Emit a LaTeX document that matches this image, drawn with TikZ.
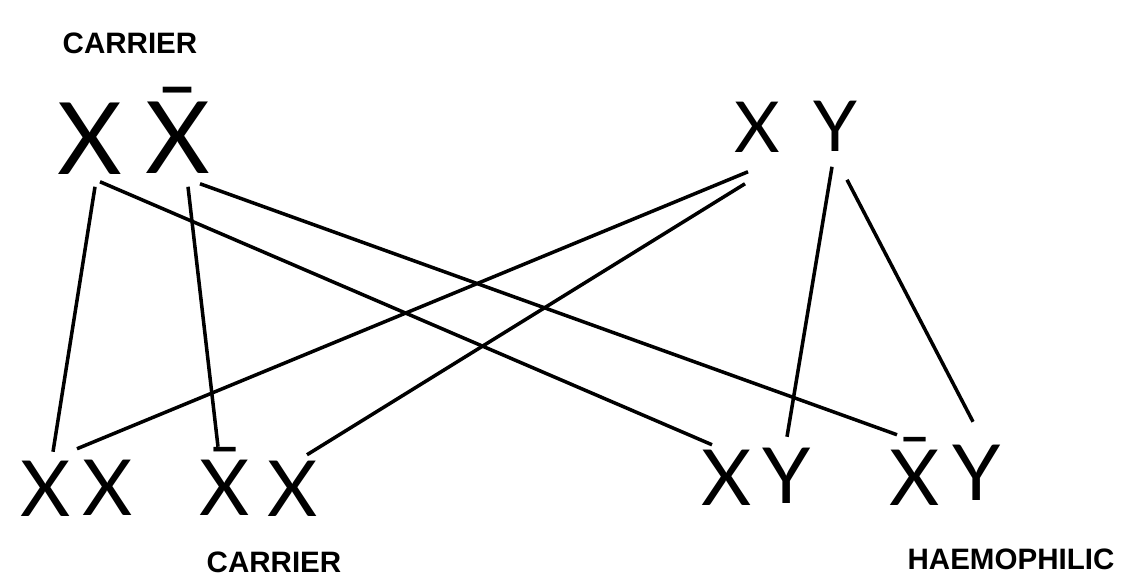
\documentclass[tikz,border=0pt]{standalone}
\usepackage{fontspec}
\setmainfont{Liberation Sans}
\newfontfamily\handfont{Lato}

\begin{document}
\begin{tikzpicture}[x=0.025cm, y=-0.025cm, line width=2.5pt,
		gene/.style={inner sep=0pt, anchor=base, font=\handfont\fontsize{55}{55}\selectfont},
		biggene/.style={gene, font=\handfont\fontsize{71}{71}\selectfont},
		midgene/.style={gene, font=\handfont\fontsize{50}{50}\selectfont},
		tag/.style={inner sep=0pt, font=\bfseries\fontsize{21}{21}\selectfont}]
		\useasboundingbox (0,0) rectangle (1128,582);
		% mother (carrier) and father
		\node[tag] (tcar) at (130,43) {CARRIER};
		\node[biggene] (tlX) at (90,175) {X};
		\node[biggene] (tlXb) at (178,174) {\=X};
		\node[midgene] (trX) at (757,153) {X};
		\node[midgene] (trY) at (835,152) {Y};
		% children
		\node[gene] (bXa) at (46,516) {X};
		\node[gene] (bXb) at (108,515) {X};
		\node[gene] (bXc) at (225,515) {\=X};
		\node[gene] (bXd) at (293,516) {X};
		\node[gene] (bXe) at (727,505) {X};
		\node[gene] (bYa) at (787,503) {Y};
		\node[gene] (bXf) at (915,505) {\=X};
		\node[gene] (bYb) at (977,500) {Y};
		\node[tag] (bcar) at (274,562) {CARRIER};
		\node[tag] (haem) at (1011,559) {HAEMOPHILIC};
		% lines from the mother
		\draw ([shift={(5,10)}]tlX.south) -- ([shift={(7,-66)}]bXa.south);
		\draw ([shift={(10,5)}]tlX.south) -- ([shift={(-15,-62)}]bXe.south);
		\draw ([shift={(10,11)}]tlXb.south) -- ([shift={(-7,-70)}]bXc.south);
		\draw ([shift={(22,8)}]tlXb.south) -- ([shift={(-18,-72)}]bXf.south);
		% lines from the father
		\draw ([shift={(-9,17)}]trX.south) -- ([shift={(-31,-68)}]bXb.south);
		\draw ([shift={(-12,29)}]trX.south) -- ([shift={(14,-63)}]bXd.south);
		\draw ([shift={(-3,13)}]trY.south) -- ([shift={(0,-68)}]bYa.south);
		\draw ([shift={(12,26)}]trY.south) -- ([shift={(-4,-80)}]bYb.south);
\end{tikzpicture}
\end{document}
